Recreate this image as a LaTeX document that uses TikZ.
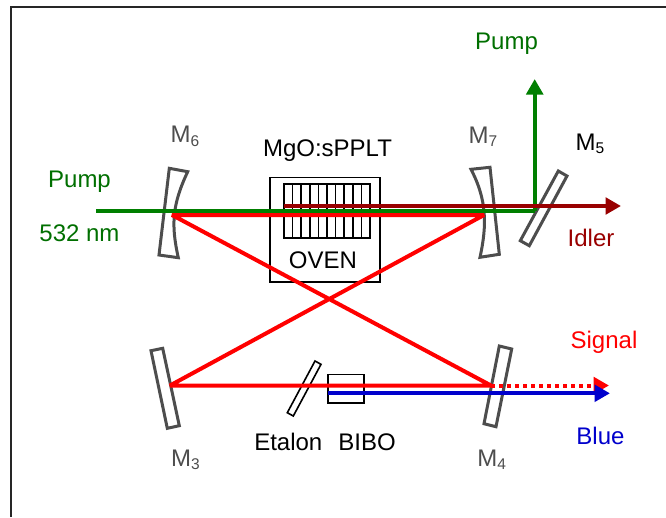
\documentclass[tikz,border=0pt]{standalone}
\usepackage{fontspec}
\setmainfont{Liberation Sans}
\usetikzlibrary{arrows.meta}
\definecolor{mirgray}{HTML}{4D4D4D}
\definecolor{pumpgreen}{HTML}{007F00}
\definecolor{labgreen}{HTML}{006F00}
\definecolor{idlerred}{HTML}{990000}
\definecolor{bluebeam}{HTML}{0000CC}
\tikzset{mirror/.style={draw=mirgray,line width=3pt,fill=white},
	beam/.style={line width=4pt},
	tip/.style={-{Triangle[length=15.5pt,width=16.5pt]}},
	box/.style={line width=1.6pt},
	lab/.style={inner sep=0pt,anchor=base,font=\fontsize{24}{26}\selectfont}}
\newcommand{\sub}[2]{#1\raisebox{-0.14em}{\fontsize{15.5}{16}\selectfont #2}}
\begin{document}
\begin{tikzpicture}[x=1pt, y=-1pt, line join=miter]
	\useasboundingbox (0,0) rectangle (666,517);
	\path (96,210.7) coordinate (PS)
	(534.7,210.7) coordinate (PC)
	(534.7,79) coordinate (PE)
	(284,206) coordinate (IS)
	(621,206) coordinate (IE)
	(172,215) coordinate (R6)
	(484,215) coordinate (R7)
	(170,385.5) coordinate (R3)
	(491,385.5) coordinate (R4)
	(594,385.5) coordinate (SD)
	(609,385.5) coordinate (SE)
	(328,393.3) coordinate (BS)
	(610,393.3) coordinate (BE);
	% frame
	\draw[line width=1.6pt,color=black!85] (11,517)--(11,7)--(666,7);
	% oven and crystal
	\draw[box] (270,177.3) rectangle (379.7,281.7);
	\draw[box] (284,183.7) rectangle (370,237.7);
	\foreach \x in {1,...,9}
	\draw[box] (284+\x*8.6,183.7)--(284+\x*8.6,237.7);
	% bibo and etalon
	\draw[box] (327.7,374.3) rectangle (364,403);
	\draw[box,fill=white] (315,361)--(321,364.3)--(293.3,416)--(287.3,412.7)--cycle;
	% mirrors
	\draw[mirror] (169.3,168.3)--(187.7,171.7)
	.. controls (172,205) and (171,225) .. (178.3,257.7)
	--(159,255)--cycle;
	\draw[mirror] (471,169.3)--(490,167.3)--(499.3,254.3)--(480,257.3)
	.. controls (487,225) and (487,200) .. cycle;
	\draw[mirror] (558.3,171)--(567,176)--(529.3,245.7)--(520.3,240.7)--cycle;
	\draw[mirror] (151,350.7)--(162.7,348.3)--(179.3,425.7)--(167.3,428.3)--cycle;
	\draw[mirror] (499.3,346)--(511.7,349)--(496,426.7)--(484,423.7)--cycle;
	% beams
	\draw[beam,pumpgreen] (PS)--(PC);
	\draw[beam,pumpgreen,tip] (PC)--(PE);
	\draw[beam,idlerred,tip] (IS)--(IE);
	\draw[beam,red,tip] (SD)--(SE);
	\draw[beam,red,dash pattern=on 4pt off 4pt] (R4)--(SD);
	\draw[beam,bluebeam,tip] (BS)--(BE);
	% cavity
	\draw[beam,red,line join=bevel] (R6)--(R7)--(R3)--(R4)--cycle;
	% labels
	\foreach \n/\x/\y/\c/\t in {lPumpA/506.5/49.5/labgreen/Pump,lPumpB/79.5/187.5/labgreen/Pump,lWave/79.5/241.7/labgreen/532 nm,
		lCrystal/327.5/156.7/black/MgO:sPPLT,lOven/323/268.3/black/OVEN,lFive/590/150/black/\sub{M}{5},
		lSix/185/142.7/mirgray/\sub{M}{6},lSeven/483/143.3/mirgray/\sub{M}{7},lThree/185.5/466/mirgray/\sub{M}{3},lFour/491.7/466/mirgray/\sub{M}{4},
		lIdler/591/246.7/idlerred/Idler,lSignal/604/348/red/Signal,lBlue/600.5/444/bluebeam/Blue,lEtalon/288.3/450/black/Etalon,lBibo/367/450/black/BIBO}
	\node[lab,text=\c] (\n) at (\x,\y) {\t};
\end{tikzpicture}
\end{document}
